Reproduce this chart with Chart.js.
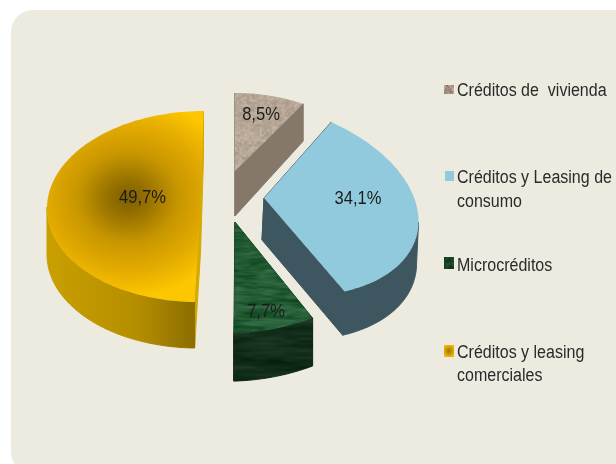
<!DOCTYPE html>
<html lang="es">
<head>
<meta charset="utf-8">
<title>Cartera</title>
<script src="https://cdn.jsdelivr.net/npm/chart.js@4"></script>
<style>
  html, body { margin: 0; padding: 0; background: #fff; overflow: hidden; }
  #panel { position: absolute; left: 11px; top: 10px; width: 660px; height: 464px; background: #edebe0; border-radius: 22px; }
  #chart { position: absolute; left: 0; top: 0; }
</style>
</head>
<body>
<div id="panel"></div>
<canvas id="chart" width="616" height="464"></canvas>
<script>
const categories = [
  ['Créditos de  vivienda'],
  ['Créditos y Leasing de', 'consumo'],
  ['Microcréditos'],
  ['Créditos y leasing', 'comerciales']
];
const values = [8.5, 34.1, 7.7, 49.7];

// projection of each slice: apex, radii, skew, wall height/shift, label offset from apex
const sliceShape = [
  { ax: 235, ay: 171, rx: 134, ry: 78, sx: 0, sy: 0, d0: 45, dv: 9, wx: 0, lx: 26, ly: -56 },
  { ax: 264, ay: 198, rx: 154, ry: 97, sx: 13, sy: 15, d0: 42, dv: 2, wx: -2, lx: 94, ly: 1 },
  { ax: 235, ay: 222, rx: 169, ry: 111, sx: 2, sy: -7, d0: 47, dv: 1, wx: 0, lx: 31, ly: 90 },
  { ax: 200.5, ay: 206.5, rx: 153.5, ry: 95.5, sx: -3, sy: 0, d0: 46, dv: 0, wx: 0, lx: -58, ly: -8 }
];
const drawOrder = [0, 3, 1, 2];
const legendBaselines = [[96], [183, 207], [271], [358, 381]];
const legendBoxes = [[444, 85, 10, 9], [445, 171, 9, 10], [444, 257, 10, 12], [444, 345, 10, 12]];

function hash(i, j) {
  const s = Math.sin(i * 127.1 + j * 311.7) * 43758.5453;
  return s - Math.floor(s);
}

function noise(x, y) {
  const i = Math.floor(x), j = Math.floor(y);
  let fx = x - i, fy = y - j;
  fx = fx * fx * (3 - 2 * fx);
  fy = fy * fy * (3 - 2 * fy);
  const a = hash(i, j), b = hash(i + 1, j), c = hash(i, j + 1), d = hash(i + 1, j + 1);
  return (a * (1 - fx) + b * fx) * (1 - fy) + (c * (1 - fx) + d * fx) * fy;
}

// mottled texture for the tan and green slices, page sized so it never tiles
function makeTexture(ctx, base, amp, fx, fy) {
  const W = 616, H = 464;
  const c = document.createElement('canvas');
  c.width = W;
  c.height = H;
  const g = c.getContext('2d');
  const img = g.createImageData(W, H);
  for (let y = 0; y < H; y++) {
    for (let x = 0; x < W; x++) {
      const n = noise(x * fx, y * fy) * 0.6 + noise(x * fx * 2.3 + 9, y * fy * 2.3 + 4) * 0.4 - 0.5;
      const k = (y * W + x) * 4;
      img.data[k] = base[0] + n * amp;
      img.data[k + 1] = base[1] + n * amp;
      img.data[k + 2] = base[2] + n * amp;
      img.data[k + 3] = 255;
    }
  }
  g.putImageData(img, 0, 0);
  return ctx.createPattern(c, 'repeat');
}

function yellowFace(ctx) {
  // elliptical dark centre, filled under a scaled transform
  const g = ctx.createRadialGradient(0, 0, 0, 0, 0, 112);
  g.addColorStop(0, '#7d5d00');
  g.addColorStop(0.2, '#9a7400');
  g.addColorStop(0.45, '#c79600');
  g.addColorStop(0.7, '#e0a800');
  g.addColorStop(1, '#fcc600');
  return g;
}

let paints = null;
function getPaints(ctx) {
  if (paints) return paints;
  const yellowWall = ctx.createLinearGradient(47, 0, 197, 0);
  yellowWall.addColorStop(0, '#c99f00');
  yellowWall.addColorStop(0.6, '#b58e00');
  yellowWall.addColorStop(1, '#8a6c00');
  paints = {
    face: [
      makeTexture(ctx, [181, 166, 150], 45, 0.4, 0.4),
      '#92cadd',
      makeTexture(ctx, [34, 90, 52], 55, 0.06, 0.3),
      null
    ],
    wall: [
      '#857769',
      '#3d5660',
      makeTexture(ctx, [18, 46, 26], 32, 0.03, 0.18),
      yellowWall
    ],
    radial: ['#857769', '#3d5660', '#1a3a22', '#d4a900'],
    swatch: [
      makeTexture(ctx, [165, 145, 130], 110, 0.6, 0.6),
      '#92cadd',
      makeTexture(ctx, [22, 62, 34], 40, 0.3, 0.3),
      null
    ]
  };
  return paints;
}

function pointAt(s, angle, r) {
  const u = Math.cos(angle) * r, v = Math.sin(angle) * r;
  return { x: s.ax + s.rx * u + s.sx * v, y: s.ay + s.ry * v + s.sy * u, v };
}

function arcPoints(arc, s) {
  const pts = [];
  const steps = Math.ceil((arc.endAngle - arc.startAngle) / 0.03);
  for (let i = 0; i <= steps; i++) {
    pts.push(pointAt(s, arc.startAngle + (arc.endAngle - arc.startAngle) * i / steps, 1));
  }
  return pts;
}

function polygon(ctx, pts, seal) {
  ctx.beginPath();
  pts.forEach((q, i) => (i ? ctx.lineTo(q.x, q.y) : ctx.moveTo(q.x, q.y)));
  ctx.closePath();
  ctx.fill();
  if (seal) {
    ctx.strokeStyle = ctx.fillStyle;
    ctx.lineWidth = 1;
    ctx.stroke();
  }
}

function drawStretched(ctx, text, x, y, size, squeeze) {
  ctx.save();
  ctx.font = size + 'px "Liberation Sans", Arial, sans-serif';
  ctx.translate(x, y);
  ctx.scale(squeeze, 1);
  ctx.fillText(text, 0, 0);
  ctx.restore();
}

const pie3d = {
  id: 'pie3d',
  beforeDatasetsDraw(chart) {
    const ctx = chart.ctx;
    const arcs = chart.getDatasetMeta(0).data;
    const p = getPaints(ctx);
    drawOrder.forEach((idx) => {
      const arc = arcs[idx], s = sliceShape[idx];
      const rim = arcPoints(arc, s);
      const apex = pointAt(s, arc.startAngle, 0);
      const drop = (q) => ({ x: q.x + s.wx, y: q.y + s.d0 + s.dv * q.v, v: q.v });
      // only the rim part running right to left faces the viewer
      const front = rim.filter((q, i) => (i + 1 < rim.length && rim[i + 1].x < q.x) || (i > 0 && rim[i - 1].x > q.x));
      ctx.save();
      ctx.fillStyle = p.radial[idx];
      polygon(ctx, [apex, rim[0], drop(rim[0]), drop(apex)], true);
      polygon(ctx, [apex, rim[rim.length - 1], drop(rim[rim.length - 1]), drop(apex)], true);
      if (front.length > 1) {
        ctx.fillStyle = p.wall[idx];
        polygon(ctx, front.concat(front.slice().reverse().map(drop)), true);
      }
      if (idx === 3) {
        ctx.beginPath();
        [apex].concat(rim).forEach((q, i) => (i ? ctx.lineTo(q.x, q.y) : ctx.moveTo(q.x, q.y)));
        ctx.closePath();
        ctx.translate(128, 198);
        ctx.scale(1, 0.88);
        ctx.fillStyle = yellowFace(ctx);
        ctx.fill();
      } else {
        ctx.fillStyle = p.face[idx];
        polygon(ctx, [apex].concat(rim));
      }
      ctx.restore();
    });

    // percentage labels
    ctx.save();
    ctx.fillStyle = '#1c1c1c';
    ctx.textAlign = 'center';
    ctx.textBaseline = 'middle';
    values.forEach((v, i) => {
      const s = sliceShape[i];
      drawStretched(ctx, v.toFixed(1).replace('.', ',') + '%', s.ax + s.lx, s.ay + s.ly, 18, 0.92);
    });
    ctx.restore();
    return false;
  },
  afterDraw(chart) {
    const ctx = chart.ctx;
    const p = getPaints(ctx);
    ctx.save();
    categories.forEach((lines, i) => {
      const [x, y, w, h] = legendBoxes[i];
      if (i === 3) {
        const g = ctx.createRadialGradient(x + w / 2, y + h / 2, 0, x + w / 2, y + h / 2, 6);
        g.addColorStop(0, '#9a7400');
        g.addColorStop(1, '#efb800');
        ctx.fillStyle = g;
      } else {
        ctx.fillStyle = p.swatch[i];
      }
      ctx.fillRect(x, y, w, h);
      ctx.fillStyle = '#2a2a2a';
      ctx.textAlign = 'left';
      ctx.textBaseline = 'alphabetic';
      lines.forEach((t, k) => drawStretched(ctx, t, 457, legendBaselines[i][k], 18, 0.89));
    });
    ctx.restore();
  }
};

new Chart(document.getElementById('chart'), {
  type: 'pie',
  data: {
    labels: categories.map((c) => c.join(' ')),
    datasets: [{ data: values, borderWidth: 0 }]
  },
  options: {
    responsive: false,
    animation: false,
    plugins: {
      legend: { display: false },
      tooltip: { enabled: false }
    }
  },
  plugins: [pie3d]
});
</script>
</body>
</html>
